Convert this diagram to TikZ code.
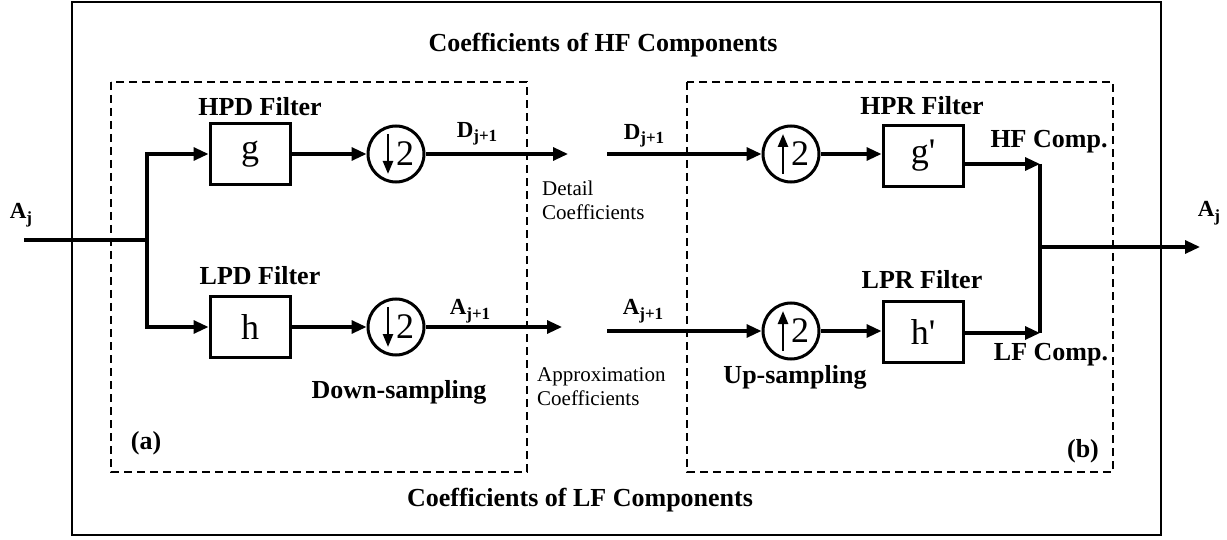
\documentclass[tikz,border=0pt]{standalone}
\usepackage{fontspec}
\setmainfont{Liberation Serif}
\usetikzlibrary{arrows.meta}
\newcommand\mysub[1]{\raisebox{-4.5pt}{\fontsize{17}{17}\selectfont #1}}
\begin{document}
\begin{tikzpicture}[x=1pt,y=-1pt,
 thickline/.style={line width=3.2pt},
 arr/.style={thickline,-{Triangle[length=15pt,width=13pt]}},
 inarr/.style={line width=2.4pt,-{Triangle[length=13pt,width=10pt]}},
 filt/.style={draw,line width=3pt,minimum width=80pt,minimum height=61pt,inner sep=0pt,font=\fontsize{36}{36}\selectfont},
 samp/.style={draw,circle,line width=3pt,minimum size=56pt,inner sep=0pt},
 two/.style={inner sep=0pt,font=\fontsize{36}{36}\selectfont},
 lbl/.style={font=\fontsize{26}{28}\selectfont\bfseries,inner sep=0pt},
 sig/.style={font=\fontsize{23}{25}\selectfont\bfseries,inner sep=0pt},
 note/.style={font=\fontsize{21}{24}\selectfont,align=left,inner sep=0pt,anchor=north west},
 dashbox/.style={draw,line width=1.6pt,dash pattern=on 8pt off 5pt},
]
\useasboundingbox (0,0) rectangle (1227,540);
% frames
\draw[line width=1.6pt] (72,2) rectangle (1161,535);
\draw[dashbox] (111,82) rectangle (527,472);
\draw[dashbox] (687,82) rectangle (1113,472);

% blocks
\node[filt] (g) at (250,154) {g};
\node[filt] (h) at (250,327) {h};
\node[samp] (d1) at (396,154) {};
\node[samp] (d2) at (396,327) {};
\node[samp] (u1) at (791,154) {};
\node[samp] (u2) at (791,331) {};
\node[filt] (gp) at (923,156) {g\textquotesingle};
\node[filt] (hp) at (923,332) {h\textquotesingle};

% symbols inside samplers
\foreach \n in {d1,d2}{
  \draw[inarr] ([shift={(-8,-20)}]\n.center) -- ([shift={(-8,20)}]\n.center);
  \node[two] at ([shift={(9,0)}]\n.center) {2};
}
\foreach \n in {u1,u2}{
  \draw[inarr] ([shift={(-8,20)}]\n.center) -- ([shift={(-8,-20)}]\n.center);
  \node[two] at ([shift={(9,0)}]\n.center) {2};
}

% coordinates
\coordinate (in) at (24,240);
\coordinate (br) at (147,240);
\coordinate (dOut) at (568,154);
\coordinate (aOut) at (562,327);
\coordinate (dIn) at (607,154);
\coordinate (aIn) at (607,331);
\coordinate (hfT) at (1040,164);
\coordinate (lfT) at (1040,333);
\coordinate (jn) at (1040,247);
\coordinate (out) at (1200,247);

% connectors
\draw[thickline] (in) -- (br);
\draw[arr] (br) |- (g.west);
\draw[arr] (br) |- (h.west);
\draw[arr] (g.east) -- (d1.west);
\draw[arr] (h.east) -- (d2.west);
\draw[arr] (d1.east) -- (dOut);
\draw[arr] (d2.east) -- (aOut);
\draw[arr] (dIn) -- (u1.west);
\draw[arr] (aIn) -- (u2.west);
\draw[arr] (u1.east) -- (gp.west |- u1.east);
\draw[arr] (u2.east) -- (hp.west |- u2.east);
\draw[arr] (gp.east |- hfT) -- (hfT);
\draw[arr] (hp.east |- lfT) -- (lfT);
\draw[thickline] (hfT) -- (lfT);
\draw[arr] (jn) -- (out);

% labels
\node[lbl] (hft) at (603,45) {Coefficients of HF Components};
\node[lbl] (lft) at (580,500) {Coefficients of LF Components};
\node[lbl] (hpd) at (260,107) {HPD Filter};
\node[lbl] (lpd) at (260,276) {LPD Filter};
\node[lbl] (hpr) at (922,106) {HPR Filter};
\node[lbl] (lpr) at (922,280) {LPR Filter};
\node[lbl] (hfc) at (1049,142) {HF Comp.};
\node[lbl] (lfc) at (1051,355) {LF Comp.};
\node[lbl] (ds) at (399,392) {Down-sampling};
\node[lbl] (us) at (795,377) {Up-sampling};
\node[lbl] (pa) at (146,443) {(a)};
\node[lbl] (pb) at (1083,451) {(b)};

\node[sig] (ajl) at (21,215) {A\mysub{j}};
\node[sig] (ajr) at (1209,213) {A\mysub{j}};
\node[sig] (dl) at (477,134) {D\mysub{j+1}};
\node[sig] (al) at (470,311) {A\mysub{j+1}};
\node[sig] (dr) at (644,136) {D\mysub{j+1}};
\node[sig] (ar) at (643,311) {A\mysub{j+1}};

\node[note] (det) at (542,181) {Detail\\Coefficients};
\node[note] (apx) at (537,367) {Approximation\\Coefficients};
\end{tikzpicture}
\end{document}
